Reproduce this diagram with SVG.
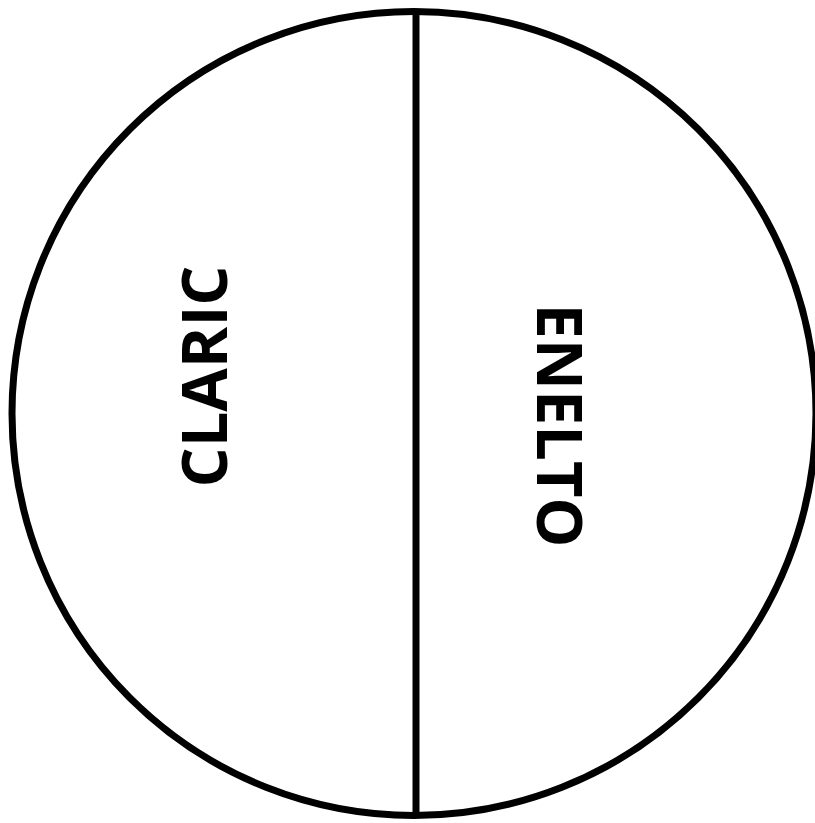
<svg xmlns="http://www.w3.org/2000/svg" width="815" height="823" viewBox="0 0 815 823">
<style>
.o{fill:none;stroke:#000;stroke-width:7}
.t{font-family:"Open Sans","Liberation Sans",sans-serif;font-weight:bold;font-size:63px;fill:#000;text-anchor:middle}
</style>
<rect width="815" height="823" fill="#fff"/>
<g id="circle"><circle class="o" cx="414" cy="413.5" r="402"/></g>
<g id="connectors"><line class="o" x1="416" y1="11" x2="416" y2="816"/></g>
<g id="claric"><text class="t" transform="translate(227,376.5) rotate(-90)">CLARIC</text></g>
<g id="enelto"><text class="t" transform="translate(537,425.5) rotate(90)">ENELTO</text></g>
</svg>
